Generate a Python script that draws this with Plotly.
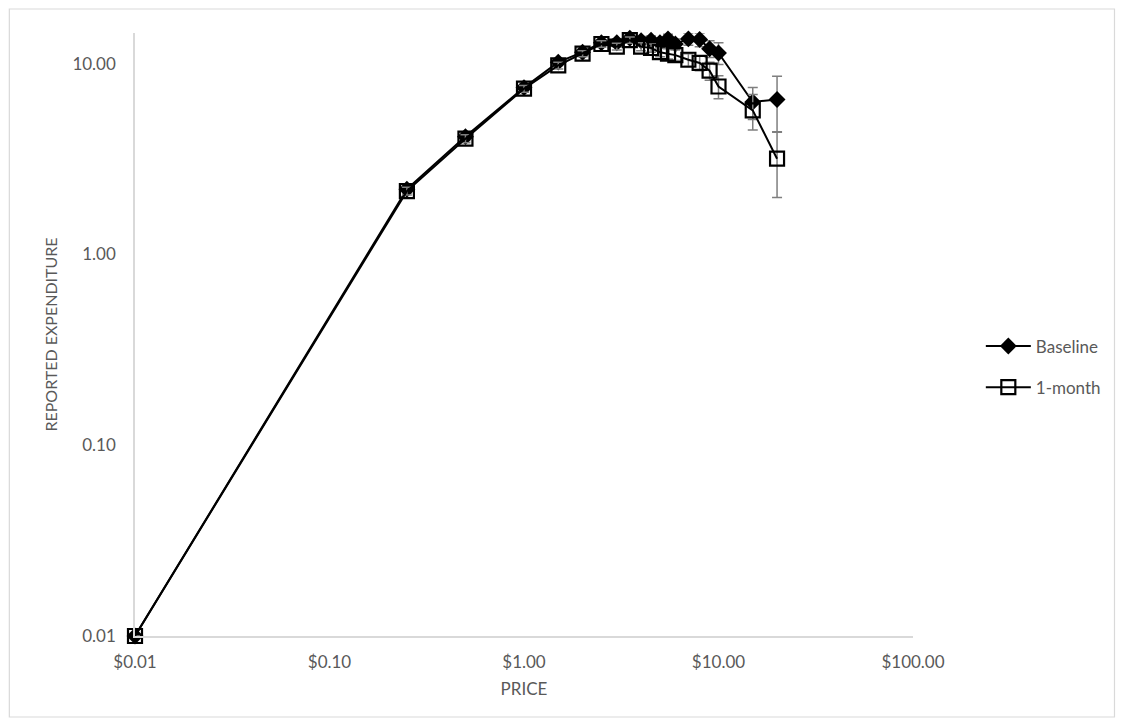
import plotly.graph_objects as go
import math

price = [0.01, 0.25, 0.5, 1, 1.5, 2, 2.5, 3, 3.5, 4, 4.5, 5, 5.5, 6, 7, 8, 9, 10, 15, 20]
baseline = [0.01, 2.2, 4.15, 7.5, 10.2, 11.5, 12.9, 12.9, 13.6, 13.2, 13.3, 12.9, 13.5, 12.7, 13.5, 13.4, 12.0, 11.4, 6.3, 6.5]
baseline_err = [0.0, 0.1, 0.2, 0.3, 0.4, 0.5, 0.5, 0.6, 0.6, 0.7, 0.7, 0.7, 0.8, 0.8, 1.0, 1.1, 1.2, 1.5, 1.2, 2.1]
month1 = [0.01, 2.15, 4.05, 7.4, 9.8, 11.3, 12.7, 12.3, 13.3, 12.3, 12.1, 11.5, 11.3, 11.1, 10.5, 10.1, 9.2, 7.6, 5.7, 3.18]
month1_err = [0.0, 0.1, 0.2, 0.3, 0.4, 0.4, 0.5, 0.5, 0.5, 0.6, 0.6, 0.6, 0.7, 0.7, 0.8, 0.9, 1.0, 1.05, 1.2, 1.19]

y_ticks = [0.01, 0.1, 1, 10]
y_ticktext = ["0.01", "0.10", "1.00", "10.00"]
x_ticks = [0.01, 0.1, 1, 10, 100]
x_ticktext = ["$0.01", "$0.10", "$1.00", "$10.00", "$100.00"]

FONT = "Lato, 'Open Sans', sans-serif"
ERR_COL = "#7f7f7f"
TXT = "#595959"

fig = go.Figure()
fig.add_trace(go.Scatter(
    x=price, y=baseline, name="Baseline", mode="lines+markers", legendgroup="a",
    line=dict(color="black", width=2),
    marker=dict(symbol="diamond", size=13, color="black"),
    error_y=dict(type="data", array=baseline_err, color=ERR_COL, thickness=1.5, width=5),
    cliponaxis=False,
))
fig.add_trace(go.Scatter(
    x=price, y=month1, name="1-month", mode="lines+markers", legendgroup="b",
    line=dict(color="black", width=2),
    marker=dict(symbol="square-open", size=14, color="black", line=dict(width=2.2, color="black")),
    error_y=dict(type="data", array=month1_err, color=ERR_COL, thickness=1.5, width=5),
    cliponaxis=False,
))

# page body has an 8px margin; work in figure coordinates
OFF = 8
W, H = 1126 - 2 * OFF, 726 - 2 * OFF
L, R, T, B = 135 - OFF, 915 - OFF, 33 - OFF, 636 - OFF
pw, ph = R - L, B - T

def px_x(p):
    return (p - OFF - L) / pw

def px_y(p):
    return (B - (p - OFF)) / ph

fig.add_shape(type="rect", xref="paper", yref="paper",
              x0=px_x(9), x1=px_x(1117), y0=px_y(717), y1=px_y(9),
              line=dict(color="#d9d9d9", width=1.2), layer="below")

fig.update_layout(
    width=W, height=H,
    margin=dict(l=L, r=W - R, t=T, b=H - B),
    paper_bgcolor="white", plot_bgcolor="white",
    font=dict(family=FONT, color=TXT, size=17),
    showlegend=True,
    legend=dict(x=px_x(983), y=px_y(367), xanchor="left", yanchor="middle",
                font=dict(size=17, color=TXT), itemwidth=45,
                tracegroupgap=16, bgcolor="rgba(0,0,0,0)"),
    xaxis=dict(type="log", range=[-2, 2], tickvals=x_ticks, ticktext=x_ticktext,
               showgrid=False, zeroline=False, showline=True, linecolor="#d9d9d9", linewidth=1.5,
               ticks="", ticklabelstandoff=10,
               tickfont=dict(size=17, color=TXT),
               title=dict(text="PRICE", font=dict(size=17, color=TXT), standoff=12)),
    yaxis=dict(type="log", range=[-2, math.log10(14.5)], tickvals=y_ticks, ticktext=y_ticktext,
               showgrid=False, zeroline=False, showline=True, linecolor="#d9d9d9", linewidth=1.5,
               ticks="", ticklabelstandoff=14,
               tickfont=dict(size=17, color=TXT),
               title=dict(text="REPORTED EXPENDITURE", font=dict(size=16, color=TXT), standoff=11)),
)

fig.write_html("out.html")
